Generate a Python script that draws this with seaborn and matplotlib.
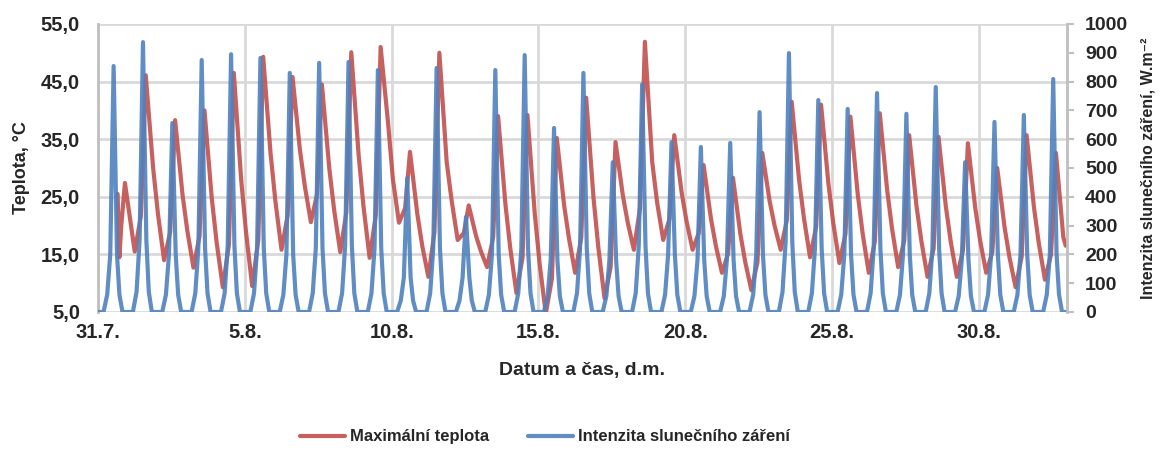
import matplotlib
matplotlib.use("Agg")
import matplotlib.pyplot as plt
import pandas as pd
import seaborn as sns

# Osa x: dny od 31.7. 00:00
date_ticks = [0, 5, 10, 15, 20, 25, 30]
date_labels = ["31.7.", "5.8.", "10.8.", "15.8.", "20.8.", "25.8.", "30.8."]
temp_ticks = [5, 15, 25, 35, 45, 55]
temp_labels = ["5,0", "15,0", "25,0", "35,0", "45,0", "55,0"]
sun_ticks = [0, 100, 200, 300, 400, 500, 600, 700, 800, 900, 1000]

# Teplota - první (neúplný) den 31.7.
temp_day0_hours = [16.0, 17.5, 19.0, 22.0]
temp_day0_values = [25.5, 14.5, 20.0, 27.4]

# Teplota po dnech 1.8. - 1.9. (°C)
temp_06h = [15.5, 14.0, 12.7, 9.3, 9.5, 15.8, 20.6, 15.4, 14.4, 20.5, 11.1, 17.5, 12.8, 8.3, 4.7, 11.8,
            7.4, 15.8, 17.5, 15.8, 11.8, 8.8, 15.8, 14.5, 13.5, 11.8, 12.8, 11.1, 11.1, 11.8, 9.3, 10.6]
temp_11h = [21.6, 18.9, 18.2, 16.7, 17.5, 21.8, 25.4, 22.3, 21.7, 23.0, 18.9, 18.7, 18.0, 14.5, 10.8, 17.9,
            12.8, 23.0, 21.1, 18.7, 15.1, 13.6, 20.9, 19.8, 18.6, 17.3, 17.4, 16.0, 15.7, 15.4, 14.6, 15.0]
temp_15h = [46.1, 38.3, 40.0, 46.5, 49.3, 45.8, 44.5, 50.1, 51.0, 32.8, 50.0, 23.5, 39.0, 39.2, 35.2, 42.2,
            34.5, 51.9, 35.7, 30.5, 28.3, 32.6, 41.5, 41.0, 38.9, 39.5, 35.7, 35.4, 34.3, 30.0, 35.7, 32.6]
temp_21h = [30.1, 25.5, 24.7, 28.0, 32.6, 33.2, 30.0, 32.3, 38.0, 22.0, 31.0, 18.2, 23.7, 22.0, 23.5, 24.8,
            25.2, 31.0, 25.8, 21.2, 18.6, 24.2, 28.0, 27.3, 25.4, 26.2, 23.4, 23.3, 23.1, 19.7, 23.2, 18.0]
temp_01h = [22.0, 19.1, 17.0, 18.8, 24.2, 26.9, 22.7, 23.3, 28.1, 16.5, 24.4, 15.5, 16.0, 13.3, 17.7, 16.1,
            20.5, 24.0, 20.8, 16.5, 13.7, 20.0, 21.3, 20.4, 18.6, 19.5, 17.3, 17.2, 17.4, 14.5, 16.9, 16.5]

# Intenzita slunečního záření po dnech 31.7. - 1.9. (W/m2)
sun_peak = [854, 937, 656, 875, 895, 882, 830, 865, 868, 840, 465, 847, 330, 840, 892, 639, 830,
            520, 790, 590, 573, 587, 694, 899, 736, 705, 760, 688, 781, 520, 660, 684, 809]
sun_shoulder = [200, 250, 200, 220, 230, 220, 200, 220, 230, 220, 120, 220, 120, 200, 220, 180, 220,
                180, 230, 200, 180, 180, 200, 240, 220, 200, 220, 200, 220, 180, 200, 200, 200]
sun_edge = [60, 70, 60, 65, 65, 65, 60, 65, 65, 65, 40, 65, 40, 60, 65, 55, 65,
            55, 65, 60, 55, 55, 60, 70, 65, 60, 65, 60, 65, 55, 60, 60, 60]

red = "#C0504D"
blue = "#4F81BD"

# tabulka teplot
rows = []
for h, v in zip(temp_day0_hours, temp_day0_values):
    rows.append((h / 24, v))
for i in range(len(temp_15h)):
    d = i + 1
    rows.append((d + 6 / 24, temp_06h[i]))
    rows.append((d + 11 / 24, temp_11h[i]))
    rows.append((d + 15 / 24, temp_15h[i]))
    rows.append((d + 21 / 24, temp_21h[i]))
    if i < len(temp_15h) - 1:
        rows.append((d + 1 + 1 / 24, temp_01h[i]))
    else:
        rows.append((d + 23 / 24, temp_01h[i]))
df_temp = pd.DataFrame(rows, columns=["den", "teplota"])

# tabulka záření
rows = [(0.0, 0)]
for d in range(len(sun_peak)):
    rows.append((d + 4.5 / 24, 0))
    rows.append((d + 7.5 / 24, sun_edge[d]))
    rows.append((d + 10 / 24, sun_shoulder[d]))
    rows.append((d + 12.75 / 24, sun_peak[d]))
    rows.append((d + 15.5 / 24, sun_shoulder[d]))
    rows.append((d + 17.5 / 24, sun_edge[d]))
    rows.append((d + 20 / 24, 0))
rows.append((len(sun_peak) - 0.02, 0))
df_sun = pd.DataFrame(rows, columns=["den", "zareni"])

sns.set_style("white")
plt.rcParams['font.family'] = ['Liberation Sans', 'DejaVu Sans']
plt.rcParams['font.weight'] = 'bold'

fig = plt.figure(figsize=(11.6, 4.5), dpi=100)
ax = fig.add_axes([0.0845, 0.3067, 0.8353, 0.64])
ax2 = ax.twinx()

sns.lineplot(data=df_temp, x="den", y="teplota", ax=ax, color=red, lw=3, alpha=0.9)
sns.lineplot(data=df_sun, x="den", y="zareni", ax=ax2, color=blue, lw=3, alpha=0.9)

ax.set_xlim(0, 33)
ax.set_ylim(5, 55)
ax2.set_ylim(0, 1000)

ax.set_xticks(date_ticks)
ax.set_xticklabels(date_labels, fontsize=14.5, fontweight='bold')
ax.set_yticks(temp_ticks)
ax.set_yticklabels(temp_labels, fontsize=14.5, fontweight='bold')
ax2.set_yticks(sun_ticks)
ax2.set_yticklabels([str(t) for t in sun_ticks], fontsize=14, fontweight='bold')

ax.grid(True, color="#D9D9D9", lw=2)
ax.tick_params(axis='y', length=0, pad=13)
ax.tick_params(axis='x', length=0, pad=8)
ax2.tick_params(axis='y', length=5, width=1.5, color="#BFBFBF", pad=8)

for s in ["top", "right", "bottom"]:
    ax.spines[s].set_visible(False)
ax.spines["left"].set_color("#BFBFBF")
ax.spines["left"].set_linewidth(2)
for s in ["top", "left", "bottom"]:
    ax2.spines[s].set_visible(False)
ax2.spines["right"].set_color("#BFBFBF")
ax2.spines["right"].set_linewidth(2)

ax.set_xlabel("Datum a čas, d.m.", fontsize=14, fontweight='bold', labelpad=14)
ax.set_ylabel("Teplota, °C", fontsize=13, fontweight='bold', labelpad=8)
ax2.set_ylabel("Intenzita slunečního záření, W.m⁻²", fontsize=11.5, fontweight='bold', labelpad=9)

h1 = ax.get_lines()[0]
h2 = ax2.get_lines()[0]
fig.legend([h1, h2], ["Maximální teplota", "Intenzita slunečního záření"], loc="center",
           bbox_to_anchor=(0.47, 0.029), ncol=2, frameon=False, handlelength=2.7,
           handletextpad=0.3, columnspacing=2.3, prop={'weight': 'bold', 'size': 12})

plt.savefig("out.png", dpi=100)
plt.close()
